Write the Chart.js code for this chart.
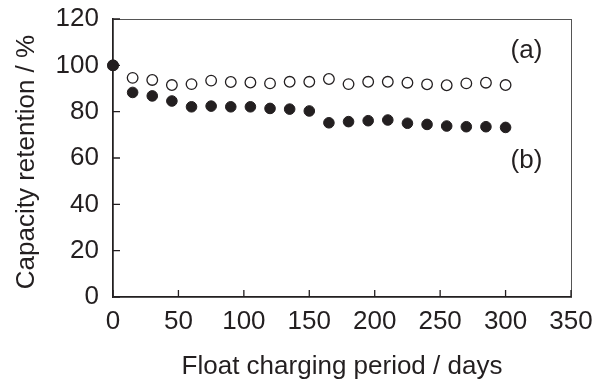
<!DOCTYPE html>
<html>
<head>
<meta charset="utf-8">
<script src="https://cdn.jsdelivr.net/npm/chart.js@4.4.1/dist/chart.umd.min.js"></script>
<style>
  html, body { margin: 0; padding: 0; background: #fff; }
  #wrap { width: 602px; height: 383px; }
</style>
</head>
<body>
<div id="wrap"><canvas id="grafico"></canvas></div>
<script>
// float charging days
const days = [0, 15, 30, 45, 60, 75, 90, 105, 120, 135, 150, 165, 180, 195, 210, 225, 240, 255, 270, 285, 300];
// (a) open circles
const retentionA = [100, 94.6, 93.7, 91.5, 91.9, 93.4, 92.8, 92.6, 92.2, 92.9, 92.9, 94.1, 91.9, 92.9, 92.9, 92.5, 91.8, 91.4, 92.2, 92.5, 91.5];
// (b) filled circles
const retentionB = [100, 88.3, 86.8, 84.6, 82.1, 82.4, 82.1, 82.1, 81.4, 81.1, 80.3, 75.2, 75.7, 76.1, 76.4, 75.0, 74.5, 73.8, 73.5, 73.5, 73.2];

const xTicks = [0, 50, 100, 150, 200, 250, 300, 350];
const yTicks = [0, 20, 40, 60, 80, 100, 120];

const seriesLabels = ['(a)', '(b)'];
const labelPos = [[316, 106.2], [316, 58.7]];

const ink = '#231f20';
const fam = '"Liberation Sans", Arial, Helvetica, sans-serif';
const fs = 26;

// frame, ticks pointing into the plot, y title, (a)/(b) labels
const extras = {
  id: 'extras',
  beforeDatasetsDraw(chart) {
    const c = chart.ctx;
    const a = chart.chartArea;
    c.save();
    c.strokeStyle = '#555';
    c.lineWidth = 1;
    c.strokeRect(a.left + 0.5, a.top + 0.5, a.right - a.left, a.bottom - a.top);
    c.restore();
  },
  afterDraw(chart) {
    const c = chart.ctx;
    const x = chart.scales.x, y = chart.scales.y;
    c.save();
    c.strokeStyle = ink;
    c.lineWidth = 1.3;
    c.beginPath();
    xTicks.forEach(v => {
      const px = x.getPixelForValue(v);
      c.moveTo(px, y.bottom);
      c.lineTo(px, y.bottom - 7);
    });
    yTicks.forEach(v => {
      const py = y.getPixelForValue(v);
      c.moveTo(x.left, py);
      c.lineTo(x.left + 7, py);
    });
    c.stroke();

    c.fillStyle = ink;
    c.font = fs + 'px ' + fam;
    c.textAlign = 'center';
    c.textBaseline = 'middle';
    seriesLabels.forEach((t, i) => {
      c.fillText(t, x.getPixelForValue(labelPos[i][0]), y.getPixelForValue(labelPos[i][1]));
    });

    c.translate(27, 162);
    c.rotate(-Math.PI / 2);
    c.fillText('Capacity retention / %', 0, 0);
    c.restore();
  }
};

const ctx = document.getElementById('grafico').getContext('2d');

const grafico = new Chart(ctx, {
  type: 'scatter',
  data: {
    datasets: [
      {
        label: '(b)',
        data: days.map((d, i) => ({ x: d, y: retentionB[i] })),
        pointStyle: 'circle',
        pointRadius: 5.3,
        pointBackgroundColor: ink,
        pointBorderColor: ink,
        pointBorderWidth: 1,
        order: 1
      },
      {
        label: '(a)',
        data: days.map((d, i) => ({ x: d, y: retentionA[i] })),
        pointStyle: 'circle',
        pointRadius: 5.3,
        pointBackgroundColor: '#fff',
        pointBorderColor: ink,
        pointBorderWidth: 1.3,
        order: 2
      }
    ]
  },
  options: {
    responsive: true,
    maintainAspectRatio: false,
    animation: false,
    clip: false,
    layout: { padding: { top: 19, right: 31, left: 0, bottom: 0 } },
    plugins: {
      legend: { display: false },
      tooltip: { enabled: false }
    },
    scales: {
      x: {
        type: 'linear',
        min: 0,
        max: 350,
        afterBuildTicks: s => { s.ticks = xTicks.map(v => ({ value: v })); },
        afterFit: s => { s.height = 86; s.paddingLeft = 0; s.paddingRight = 0; },
        grid: { display: false, drawTicks: false },
        border: { display: true, color: ink, width: 1.5 },
        ticks: { color: ink, font: { family: fam, size: fs }, padding: 9, maxRotation: 0 },
        title: {
          display: true,
          text: 'Float charging period / days',
          color: ink,
          font: { family: fam, size: fs },
          padding: { top: 0, bottom: 1 }
        }
      },
      y: {
        type: 'linear',
        min: 0,
        max: 120,
        afterBuildTicks: s => { s.ticks = yTicks.map(v => ({ value: v })); },
        afterFit: s => { s.width = 113; s.paddingTop = 0; s.paddingBottom = 0; },
        grid: { display: false, drawTicks: false },
        border: { display: true, color: ink, width: 1.5 },
        ticks: { color: ink, font: { family: fam, size: fs }, padding: 14 }
      }
    }
  },
  plugins: [extras]
});
</script>
</body>
</html>
